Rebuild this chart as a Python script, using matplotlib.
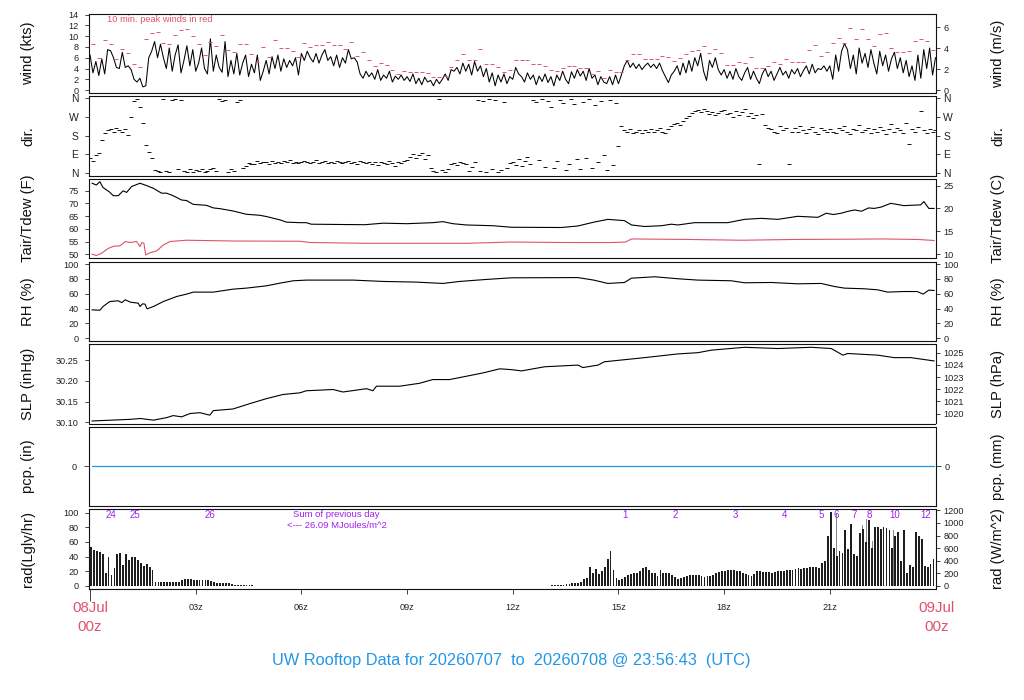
import numpy as np
import matplotlib.pyplot as plt

plt.rcParams['font.family'] = ['Liberation Sans', 'DejaVu Sans']

# ---------------- data (hours after 08Jul 00z) ----------------
# 5-minute wind speed (kts)
wind_kts = [
    6.5, 3.2, 5.3, 2.7, 5.8, 3.0, 7.5, 7.3, 6.0, 4.2, 4.0, 7.0,
    4.2, 4.5, 3.8, 2.0, 1.5, 2.2, 0.6, 0.8, 6.0, 7.2, 9.0, 6.0,
    8.5, 6.0, 4.0, 7.8, 3.5, 6.5, 8.4, 3.2, 5.5, 8.2, 4.5, 7.5,
    3.5, 5.0, 7.8, 4.0, 3.0, 9.5, 3.5, 6.5, 4.2, 3.3, 9.0, 2.5,
    5.5, 3.0, 6.8, 2.8, 5.0, 6.5, 2.5, 4.8, 3.2, 6.5, 1.8, 3.5,
    5.5, 3.0, 6.2, 4.0, 6.5, 3.5, 5.8, 4.2, 5.5, 4.5, 6.0, 2.8,
    6.8, 5.5, 7.2, 6.0, 5.2, 6.8, 5.0, 6.5, 7.5, 5.5, 6.2, 4.5,
    6.5, 4.2, 6.0, 5.0, 7.5, 5.8, 6.0, 5.2, 3.0, 2.2, 3.5, 2.5,
    3.2, 2.0, 3.8, 1.8, 2.8, 2.2, 3.5, 1.5, 2.6, 2.0, 2.8, 1.8,
    2.5, 1.6, 3.0, 1.2, 2.2, 1.0, 2.4, 1.5, 1.8, 0.8, 2.0, 1.2,
    2.0, 3.0, 1.8, 3.8, 3.5, 4.2, 3.0, 5.0, 3.5, 4.8, 2.8, 5.3,
    3.5, 4.5, 2.5, 4.0, 1.5, 3.2, 0.8, 2.8, 1.5, 3.0, 1.2, 2.5,
    2.0, 4.2, 3.0, 2.5, 1.5, 3.2, 2.0, 2.8, 1.0, 2.6, 1.6, 3.0,
    1.4, 2.5, 0.8, 2.8, 1.8, 3.5, 2.0, 1.2, 3.4, 2.2, 3.8, 2.6,
    3.5, 1.8, 4.0, 2.2, 2.8, 1.0, 2.5, 1.5, 1.2, 2.5, 1.0, 2.8,
    1.2, 2.8, 4.5, 5.5, 4.2, 5.0, 4.0, 4.8, 3.8, 4.5, 5.0, 4.2,
    4.8, 4.0, 5.0, 3.6, 2.5, 1.4, 2.8, 3.5, 4.5, 2.8, 5.0, 3.2,
    5.5, 3.5, 6.0, 4.5, 6.8, 3.5, 1.8, 5.5, 4.2, 6.0, 3.8, 2.8,
    3.8, 2.2, 3.5, 2.0, 4.0, 2.5, 1.8, 3.2, 4.2, 2.0, 3.5, 2.2,
    1.2, 3.0, 4.0, 2.5, 3.5, 1.8, 3.0, 4.2, 2.8, 3.5, 2.2, 3.8,
    3.0, 4.0, 2.5, 3.6, 4.5, 3.0, 4.8, 3.2, 4.0, 3.8, 4.5, 3.5,
    4.5, 2.0, 6.5, 3.5, 7.2, 8.6, 7.5, 4.0, 6.5, 3.0, 7.8, 5.0,
    6.8, 4.2, 7.5, 5.0, 3.0, 7.2, 4.5, 6.5, 3.5, 5.8, 7.0, 4.0,
    6.0, 3.2, 5.5, 2.5, 4.5, 1.8, 6.5, 2.2, 7.5, 4.0, 7.8, 2.8,
    6.0,
]

# 10-minute peak wind (kts)
peak_kts = [
    8.5, 5.9, 9.2, 8.5, 5.7, 7.6, 6.8, 4.8, 4.3, 9.4, 10.5, 10.7,
    8.7, 8.5, 10.2, 11.1, 11.4, 10.0, 8.5, 6.5, 9.0, 8.1, 10.2, 7.4,
    7.1, 8.5, 8.5, 6.7, 5.2, 7.9, 6.1, 9.2, 7.8, 7.8, 7.2, 6.2,
    8.7, 8.0, 8.4, 8.4, 9.0, 8.4, 8.3, 7.6, 9.0, 6.4, 7.0, 5.5,
    4.4, 5.0, 4.7, 3.8, 3.0, 3.6, 3.3, 3.3, 3.3, 3.2, 2.4, 2.4,
    2.6, 4.3, 5.5, 6.6, 5.6, 5.6, 7.6, 4.8, 4.8, 4.3, 3.3, 3.7,
    5.5, 5.5, 5.5, 4.9, 4.9, 4.5, 3.7, 3.5, 4.1, 4.5, 4.5, 4.1,
    4.1, 2.9, 3.5, 2.3, 3.7, 3.3, 3.3, 5.6, 6.6, 6.6, 5.7, 5.7,
    5.8, 6.4, 6.2, 5.4, 6.0, 6.6, 7.2, 7.5, 8.2, 6.8, 7.6, 6.8,
    4.7, 4.7, 5.3, 5.1, 6.2, 4.1, 4.1, 4.4, 5.2, 4.9, 5.7, 5.3,
    5.3, 5.3, 7.4, 8.4, 6.4, 7.0, 8.8, 9.7, 8.7, 11.5, 9.5, 11.3,
    9.5, 8.2, 10.3, 10.6, 7.8, 7.0, 7.0, 7.2, 9.1, 9.4, 9.1, 7.5,
]

# 5-minute wind direction (deg, 0 = N)
wind_dir = [
    75, 60, 88, 95, 160, 195, 205, 210, 200, 215, 205, 198,
    212, 185, 270, 345, 355, 320, 240, 135, 100, 75, 15, 10,
    5, 355, 12, 8, 350, 358, 18, 352, 10, 5, 20, 8,
    15, 10, 22, 5, 12, 18, 25, 10, 355, 345, 350, 8,
    20, 12, 340, 352, 25, 35, 50, 45, 42, 58, 48, 55,
    52, 45, 60, 50, 55, 48, 58, 52, 62, 50, 55, 47,
    54, 60, 52, 48, 56, 62, 50, 53, 58, 51, 55, 49,
    57, 52, 48, 55, 60, 50, 53, 46, 58, 52, 49, 54,
    45, 52, 38, 55, 48, 42, 60, 50, 35, 53, 47, 58,
    65, 80, 92, 75, 85, 95, 70, 88, 25, 10, 8, 355,
    15, 5, 20, 45, 50, 40, 53, 48, 45, 12, 30, 55,
    350, 10, 345, 5, 355, 20, 352, 8, 15, 340, 25, 48,
    56, 40, 70, 35, 60, 80, 45, 350, 340, 65, 355, 30,
    345, 320, 25, 60, 350, 335, 15, 45, 358, 330, 70, 20,
    340, 75, 355, 25, 325, 55, 345, 85, 15, 350, 40, 335,
    130, 225, 205, 198, 210, 195, 200, 205, 192, 208, 200, 212,
    198, 205, 215, 200, 195, 210, 225, 235, 240, 230, 250, 265,
    275, 290, 300, 305, 295, 310, 300, 285, 295, 280, 290, 300,
    305, 285, 290, 270, 300, 280, 295, 310, 275, 290, 265, 280,
    43, 285, 230, 215, 210, 200, 195, 225, 205, 215, 43, 200,
    215, 200, 225, 205, 195, 210, 220, 200, 190, 215, 205, 198,
    210, 200, 195, 215, 205, 225, 200, 190, 210, 205, 230, 200,
    205, 215, 195, 210, 200, 220, 205, 190, 210, 235, 200, 215,
    205, 195, 240, 141, 210, 200, 220, 300, 205, 195, 210, 200,
    205,
]

tair_hr = [0.06, 0.18, 0.28, 0.37, 0.55, 0.66, 0.8, 0.94, 1.04, 1.18, 1.42, 1.6, 1.8,
           2.03, 2.17, 2.36, 2.6, 2.74, 2.93, 3.31, 3.5, 3.69, 4.06, 4.44, 4.82, 5.01,
           5.39, 5.58, 5.96, 6.14, 6.28, 7.0, 7.8, 8.32, 9.0, 9.73, 10.02, 10.3, 10.68,
           11.44, 11.96, 13.38, 13.85, 14.3, 14.7, 15.17, 15.37, 15.74, 16.22, 16.5,
           16.69, 17.16, 18.1, 18.58, 19.05, 19.52, 20.09, 20.66, 20.9, 21.1, 21.32,
           21.5, 21.7, 21.9, 22.1, 22.26, 22.45, 22.73, 22.9, 23.1, 23.58, 23.67, 23.81,
           23.96]
tair_f = [77.9, 77.2, 78.5, 76.2, 74.5, 73.0, 73.0, 74.9, 74.3, 76.6, 77.9, 77.0, 75.9,
          74.0, 74.0, 73.0, 71.3, 71.1, 69.6, 69.2, 68.2, 67.9, 67.0, 65.7, 65.3, 64.8,
          63.5, 62.6, 62.4, 62.4, 61.8, 61.7, 61.6, 62.2, 62.0, 62.4, 62.8, 62.0, 61.5,
          61.2, 60.6, 60.5, 61.1, 62.6, 63.7, 63.2, 61.5, 60.9, 61.2, 61.8,
          61.5, 62.4, 62.4, 63.7, 64.1, 63.7, 64.9, 64.5, 66.1, 65.6, 66.1,
          66.8, 67.4, 66.9, 68.2, 68.0, 68.5, 70.0, 69.6, 69.1, 69.4, 70.7, 68.0,
          68.0]

tdew_hr = [0.06, 0.18, 0.33, 0.52, 0.66, 0.85, 1.0, 1.14, 1.32, 1.42, 1.47, 1.53, 1.58,
           1.7, 1.89, 2.08, 2.27, 2.74, 4.06, 5.96, 6.25, 7.85, 10.7, 11.96, 13.5, 14.8,
           15.2, 15.37, 17.0, 18.5, 20.0, 21.5, 22.5, 23.5, 23.96]
tdew_f = [50.0, 49.5, 50.4, 52.3, 53.1, 53.3, 55.0, 54.6, 55.0, 53.0, 54.6, 54.3, 49.7,
          50.6, 51.3, 53.6, 55.0, 55.5, 55.2, 55.1, 54.6, 54.3, 54.3, 54.8, 54.6, 54.6,
          54.8, 56.0, 55.8, 55.5, 55.8, 55.9, 56.0, 55.8, 55.4]

rh_hr = [0.06, 0.18, 0.28, 0.37, 0.56, 0.8, 0.9, 1.0, 1.15, 1.37, 1.42, 1.49, 1.56, 1.62,
         1.8, 2.08, 2.46, 2.74, 2.93, 3.5, 4.06, 4.44, 5.01, 5.39, 5.77, 6.14, 7.47, 8.32,
         9.26, 10.02, 10.49, 11.25, 11.96, 13.85, 14.3, 14.7, 15.17, 15.37, 16.03, 16.69,
         17.26, 18.2, 18.58, 19.33, 20.09, 20.75, 21.13, 21.41, 21.98, 22.36, 22.64, 23.1,
         23.48, 23.65, 23.81, 23.96]
rh_pct = [38.3, 38.0, 37.8, 42.8, 49.5, 50.5, 48.0, 51.8, 48.6, 47.3, 42.8, 46.4, 46.0, 39.6,
          42.8, 49.5, 56.3, 59.5, 62.2, 62.2, 66.2, 67.6, 70.7, 74.3, 77.5, 78.4, 78.4, 76.6,
          75.7, 73.9, 76.6, 79.3, 81.5, 81.8, 78.4, 73.9, 75.2, 81.0, 82.9, 80.2,
          78.4, 77.5, 74.8, 75.2, 73.4, 73.9, 69.8, 67.6, 66.7, 65.3, 62.2, 63.0,
          63.0, 59.5, 64.9, 64.4]

slp_hr = [0.06, 1.15, 1.43, 1.8, 2.17, 2.36, 2.6, 2.84, 3.12, 3.4, 3.5, 4.06, 4.54, 5.01,
          5.48, 5.96, 6.14, 6.9, 7.18, 7.85, 8.03, 8.13, 8.79, 9.35, 9.73, 10.2, 10.68,
          11.15, 11.63, 11.96, 12.25, 12.91, 13.85, 13.99, 14.42, 14.6, 15.74, 16.69,
          17.26, 17.63, 18.58, 19.52, 20.47, 21.04, 21.37, 21.51, 22.36, 22.83, 23.3, 23.96]
slp_inhg = [30.103, 30.107, 30.109, 30.105, 30.111, 30.116, 30.113, 30.121, 30.123, 30.117,
            30.128, 30.132, 30.145, 30.157, 30.167, 30.171, 30.176, 30.179, 30.173, 30.181,
            30.176, 30.187, 30.187, 30.194, 30.203, 30.203, 30.211, 30.219, 30.229, 30.227,
            30.224, 30.234, 30.238, 30.232, 30.238, 30.246, 30.256, 30.265, 30.268, 30.274,
            30.281, 30.278, 30.281, 30.278, 30.262, 30.266, 30.262, 30.256, 30.256, 30.248]

pcp_hr = [0.06, 23.96]
pcp_in = [0.0, 0.0]

# 5-minute solar radiation (W/m^2)
rad_wm2 = [
    616, 569, 558, 546, 500, 198, 465, 174, 279, 511, 523, 337,
    511, 407, 465, 453, 407, 360, 314, 349, 302, 256, 64, 58,
    58, 58, 58, 58, 58, 58, 70, 93, 105, 110, 105, 99,
    93, 87, 99, 93, 87, 81, 70, 52, 52, 46, 46, 41,
    35, 23, 17, 17, 14, 12, 12, 9, 6, 3, 0, 0,
    0, 0, 0, 0, 0, 0, 0, 0, 0, 0, 0, 0,
    0, 0, 0, 0, 0, 0, 0, 0, 0, 0, 0, 0,
    0, 0, 0, 0, 0, 0, 0, 0, 0, 0, 0, 0,
    0, 0, 0, 0, 0, 0, 0, 0, 0, 0, 0, 0,
    0, 0, 0, 0, 0, 0, 0, 0, 0, 0, 0, 0,
    0, 0, 0, 0, 0, 0, 0, 0, 0, 0, 0, 0,
    0, 0, 0, 0, 0, 0, 0, 0, 0, 0, 0, 0,
    3, 3, 3, 4, 4, 4, 5, 5, 5, 6, 6, 7,
    7, 8, 9, 10, 12, 20, 25, 35, 40, 45, 50, 60,
    110, 130, 300, 200, 270, 190, 240, 300, 420, 550, 250, 130,
    100, 110, 150, 175, 185, 200, 210, 240, 290, 300, 250, 200,
    200, 160, 250, 200, 205, 210, 170, 150, 110, 120, 140, 160,
    170, 180, 170, 175, 160, 150, 155, 160, 170, 200, 220, 230,
    240, 250, 260, 250, 240, 230, 210, 190, 175, 160, 190, 230,
    230, 225, 220, 215, 210, 220, 230, 235, 240, 250, 255, 260,
    270, 280, 270, 280, 290, 295, 300, 300, 280, 360, 400, 800,
    1180, 600, 480, 550, 520, 880, 580, 980, 500, 480, 840, 900,
    700, 1050, 600, 930, 940, 900, 940, 920, 880, 600, 800, 850,
    400, 880, 200, 330, 300, 850, 800, 750, 320, 300, 350, 420,
]
# taller grey bars seen behind the black ones
radg_hr = [21.05, 21.2, 21.41, 21.6, 21.93, 22.05, 22.2, 22.8, 23.55]
radg_wm2 = [1150, 1150, 880, 980, 960, 1060, 720, 880, 600]

# cumulative MJ/m^2 markers along the top of the radiation panel
mj_lab = ['24', '25', '26', '1', '2', '3', '4', '5', '6', '7', '8', '10', '12']
mj_hr = [0.6, 1.28, 3.42, 15.18, 16.62, 18.32, 19.71, 20.75, 21.18, 21.7, 22.12, 22.83, 23.73]

xtick_hr = [3, 6, 9, 12, 15, 18, 21]
xtick_lab = ['03z', '06z', '09z', '12z', '15z', '18z', '21z']

RED = '#DF536B'
BLUE = '#2297E6'
PURPLE = '#A020F0'
INK = '#222222'
TICK_FS = 6.6

# ---------------- figure ----------------
W, H = 1024, 700
fig = plt.figure(figsize=(W / 100, H / 100), dpi=100)
x0, x1 = 88.5, 935.5


def panel(k):
    top = 13.7 + 82.6 * k
    ax = fig.add_axes([x0 / W, 1 - (top + 79.4) / H, (x1 - x0) / W, 79.4 / H])
    ax.set_xlim(-0.043, 24.0)
    ax.set_xticks([])
    for s in ax.spines.values():
        s.set_linewidth(0.8)
        s.set_color('#111111')
    ax.tick_params(axis='y', length=2.7, width=0.6, labelsize=TICK_FS, pad=4.5,
                   colors=INK)
    return ax, top + 39.7


def labels(ymid, left, right):
    fig.text(28 / W, 1 - ymid / H, left, rotation=90, ha='center', va='center',
             fontsize=10.6, color='#111111')
    fig.text(998 / W, 1 - ymid / H, right, rotation=90, ha='center', va='center',
             fontsize=10.6, color='#111111')


def right_axis(ax, fwd, inv, ticks, ticklabels=None):
    sec = ax.secondary_yaxis('right', functions=(fwd, inv))
    sec.set_yticks(ticks)
    if ticklabels is not None:
        sec.set_yticklabels(ticklabels)
    sec.tick_params(length=2.7, width=0.6, labelsize=TICK_FS, pad=3, colors=INK)
    sec.spines['right'].set_visible(False)
    return sec


t5 = np.arange(len(wind_kts)) * 5 / 60
t10 = (np.arange(len(peak_kts)) + 0.5) / 6

# wind
ax, ym = panel(0)
ax.plot(t5, wind_kts, color='black', lw=0.75)
ax.plot(t10, peak_kts, ls='none', marker='_', ms=3, mew=0.7, color=RED)
ax.set_ylim(-0.55, 14.15)
ax.set_yticks(range(0, 15, 2))
ax.text(0.47, 13.0, '10 min. peak winds in red', fontsize=6.7, color=RED, va='center')
right_axis(ax, lambda v: v * 0.514444, lambda v: v / 0.514444, [0, 2, 4, 6])
labels(ym, 'wind (kts)', 'wind (m/s)')

# direction
ax, ym = panel(1)
ax.plot(t5, wind_dir, ls='none', marker='_', ms=2.8, mew=0.65, color='black')
ax.set_ylim(-12, 369)
ax.set_yticks([0, 90, 180, 270, 360])
ax.set_yticklabels(['N', 'E', 'S', 'W', 'N'])
ax.tick_params(axis='y', labelsize=7.5)
sec = right_axis(ax, lambda v: v, lambda v: v, [0, 90, 180, 270, 360],
                 ['N', 'E', 'S', 'W', 'N'])
sec.tick_params(labelsize=7.5)
labels(ym, 'dir.', 'dir.')

# temperature / dew point
ax, ym = panel(2)
ax.plot(tair_hr, tair_f, color='black', lw=0.8)
ax.plot(tdew_hr, tdew_f, color=RED, lw=0.8)
ax.set_ylim(48.4, 79.6)
ax.set_yticks([50, 55, 60, 65, 70, 75])
right_axis(ax, lambda v: (v - 32) * 5 / 9, lambda v: v * 9 / 5 + 32, [10, 15, 20, 25])
labels(ym, 'Tair/Tdew (F)', 'Tair/Tdew (C)')

# relative humidity
ax, ym = panel(3)
ax.plot(rh_hr, rh_pct, color='black', lw=0.8)
ax.set_ylim(-3.6, 103.5)
ax.set_yticks(range(0, 101, 20))
right_axis(ax, lambda v: v, lambda v: v, list(range(0, 101, 20)))
labels(ym, 'RH (%)', 'RH (%)')

# sea level pressure
ax, ym = panel(4)
ax.plot(slp_hr, slp_inhg, color='black', lw=0.8)
ax.set_ylim(30.0969, 30.2887)
ax.set_yticks([30.10, 30.15, 30.20, 30.25])
ax.set_yticklabels(['30.10', '30.15', '30.20', '30.25'])
right_axis(ax, lambda v: v * 33.8639, lambda v: v / 33.8639,
           [1020, 1021, 1022, 1023, 1024, 1025])
labels(ym, 'SLP (inHg)', 'SLP (hPa)')

# precipitation
ax, ym = panel(5)
ax.plot(pcp_hr, pcp_in, color=BLUE, lw=0.9)
ax.set_ylim(-1, 1)
ax.set_yticks([0])
ax.tick_params(axis='y', length=3.6)
sec = right_axis(ax, lambda v: v, lambda v: v, [0])
sec.tick_params(length=3.6)
labels(ym, 'pcp. (in)', 'pcp. (mm)')

# solar radiation
ax, ym = panel(6)
lg = 11.622  # W/m^2 per Langley/hr
ax.bar(radg_hr, np.array(radg_wm2) / lg, width=0.025, color='#8a8a8a', lw=0, zorder=2)
ax.bar(np.arange(len(rad_wm2)) * 5 / 60, np.array(rad_wm2) / lg, width=0.052,
       align='edge', color='#1e1e1e', lw=0, zorder=3)
ax.set_ylim(-3.7, 104.6)
ax.set_yticks(range(0, 101, 20))
for h, s in zip(mj_hr, mj_lab):
    ax.text(h, 96.9, s, fontsize=7, color=PURPLE, ha='center', va='center', zorder=4)
ax.text(7.0, 96.9, 'Sum of previous day', fontsize=6.8, color=PURPLE,
        ha='center', va='center')
ax.text(7.0, 82.3, '<--- 26.09 MJoules/m^2', fontsize=6.8, color=PURPLE,
        ha='center', va='center')
ax.set_xticks([0] + xtick_hr)
ax.set_xticklabels([''] + xtick_lab)
ax.tick_params(axis='x', length=3.6, width=0.6, labelsize=TICK_FS, pad=6.5, colors=INK)
ax.get_xticklines()[0].set_markersize(8.5)
right_axis(ax, lambda v: v * lg, lambda v: v / lg, list(range(0, 1201, 200)))
labels(ym, 'rad(Lgly/hr)', 'rad (W/m^2)')

# day labels and title
for xp, day in [(90, '08Jul'), (936.5, '09Jul')]:
    fig.text(xp / W, 1 - 607.5 / H, day, ha='center', va='center', fontsize=10.8, color=RED)
    fig.text(xp / W, 1 - 627 / H, '00z', ha='center', va='center', fontsize=10.8, color=RED)

fig.text(511 / W, 1 - 660 / H,
         'UW Rooftop Data for 20260707  to  20260708 @ 23:56:43  (UTC)',
         ha='center', va='center', fontsize=11.8, color=BLUE)

fig.savefig('out.png', dpi=100)
